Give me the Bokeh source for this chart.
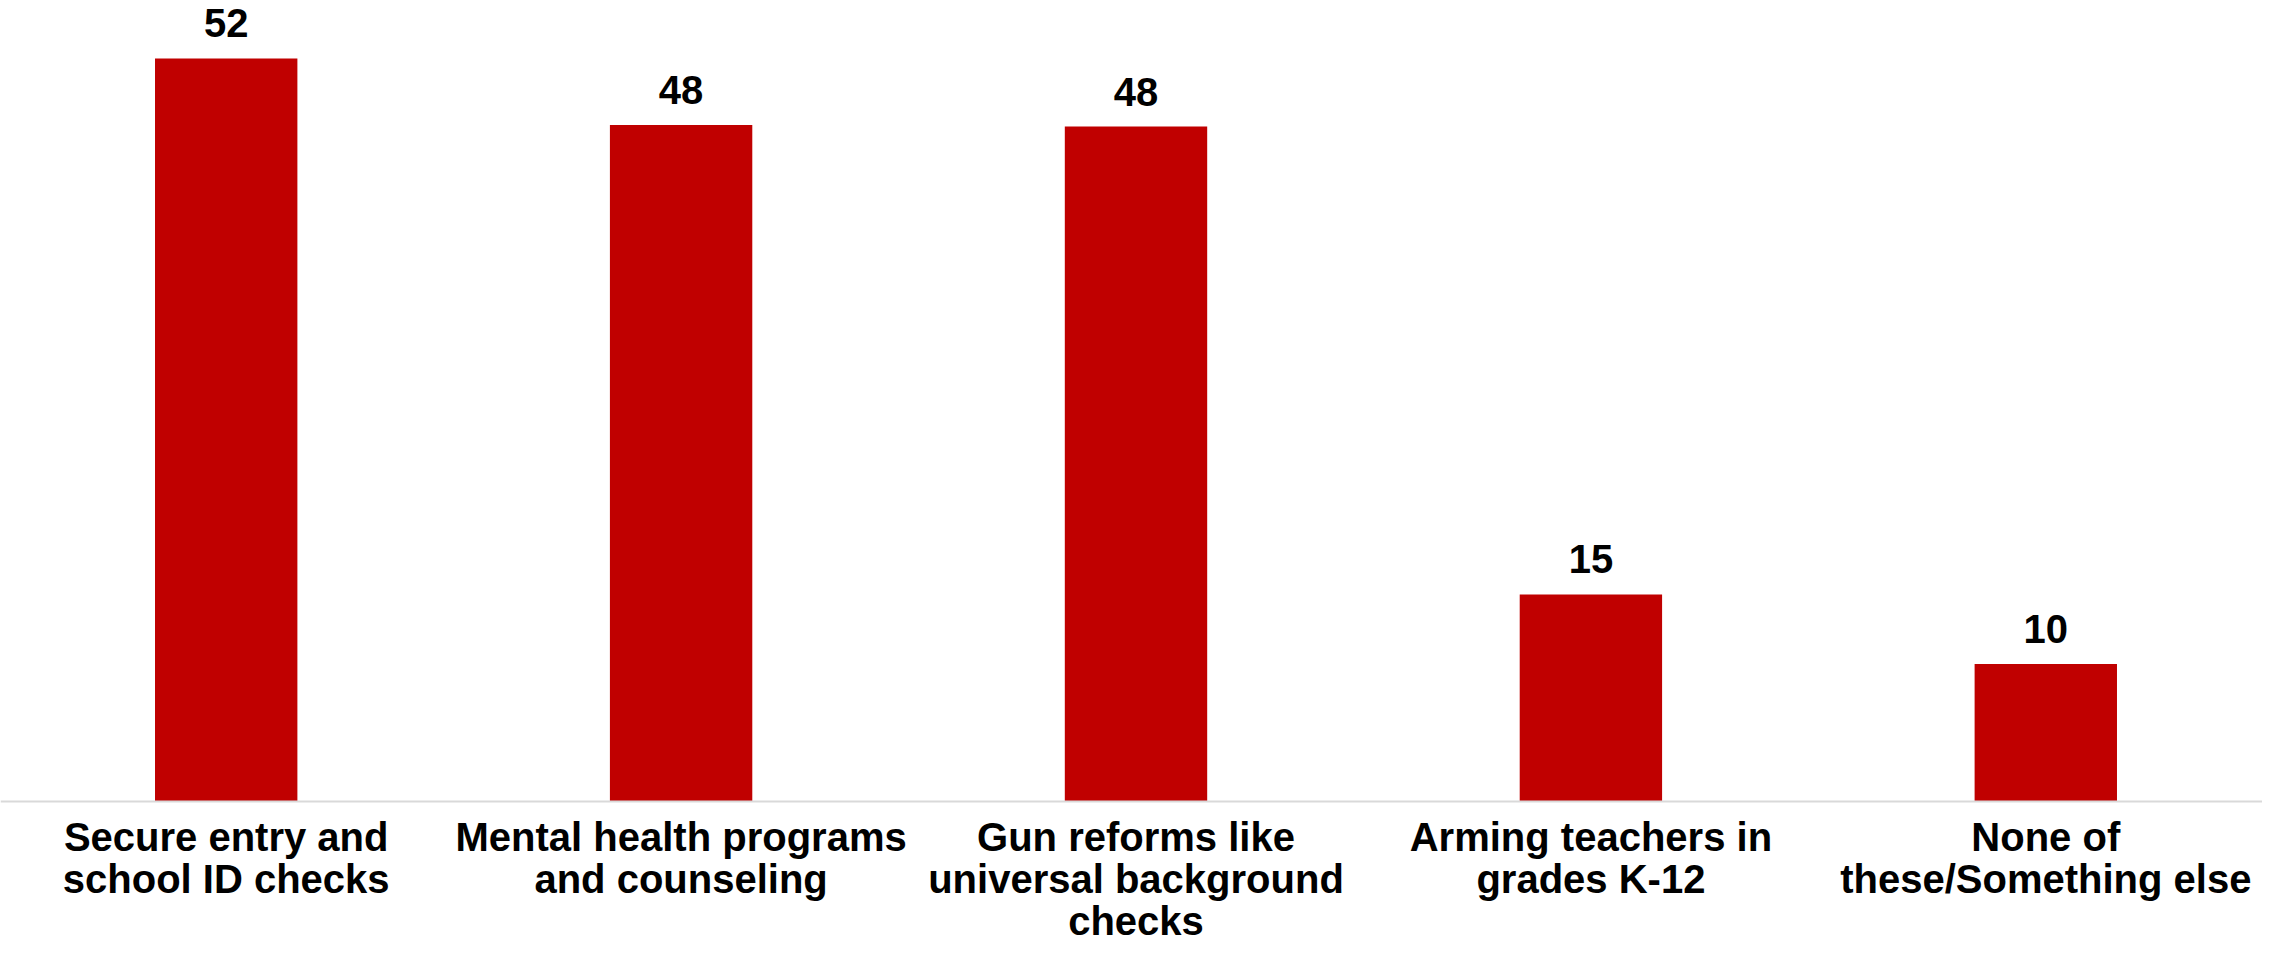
from bokeh.plotting import figure
from bokeh.models import ColumnDataSource, Range1d, Span
from bokeh.core.properties import value
from bokeh.embed import file_html
from bokeh.resources import INLINE

categories = [
    "Secure entry and school ID checks",
    "Mental health programs and counseling",
    "Gun reforms like universal background checks",
    "Arming teachers in grades K-12",
    "None of these/Something else",
]
tick_labels = [
    "Secure entry and\nschool ID checks",
    "Mental health programs\nand counseling",
    "Gun reforms like\nuniversal background\nchecks",
    "Arming teachers in\ngrades K-12",
    "None of\nthese/Something else",
]
values = [52.4, 47.7, 47.6, 14.6, 9.7]
value_labels = ["52", "48", "48", "15", "10"]

FONT = "Liberation Sans"
RED = "#C00000"

# layout (pixels)
W, H = 2262, 948
BASE_PX = 801          # baseline distance from top of canvas
PX_PER_UNIT = 14.18
UNIT_PX = 454.9        # category spacing
FIRST_CENTER = 225.7

xs = list(range(len(categories)))
src = ColumnDataSource(dict(x=xs, top=values, lab=value_labels, cat=categories,
                            tick=tick_labels, zero=[0] * len(xs)))

x0 = -FIRST_CENTER / UNIT_PX
p = figure(
    width=W, height=H,
    x_range=Range1d(x0, x0 + W / UNIT_PX),
    y_range=Range1d(-(H - BASE_PX) / PX_PER_UNIT, BASE_PX / PX_PER_UNIT),
    output_backend="svg", toolbar_location=None,
    x_axis_location=None, y_axis_location=None,
    min_border_left=0, min_border_right=0, min_border_top=0, min_border_bottom=0,
)
p.vbar(x="x", top="top", bottom=0, width=0.313, source=src, fill_color=RED, line_color=None)
p.add_layout(Span(location=0, dimension="width", line_color="#D9D9D9", line_width=2))

p.text(x="x", y="top", text="lab", source=src, text_align="center", text_baseline="alphabetic",
       y_offset=-35, text_font=value(FONT), text_font_style="bold", text_font_size="40px",
       text_color="#000000")

p.text(x="x", y="zero", text="tick", source=src, text_align="center", text_baseline="top",
       y_offset=13, text_font=value(FONT), text_font_style="bold", text_font_size="40px",
       text_line_height=0.96, text_color="#000000")

p.xgrid.visible = False
p.ygrid.visible = False
p.outline_line_color = None
p.background_fill_color = "white"
p.border_fill_color = "white"

open("out.html", "w").write(file_html(p, INLINE))
